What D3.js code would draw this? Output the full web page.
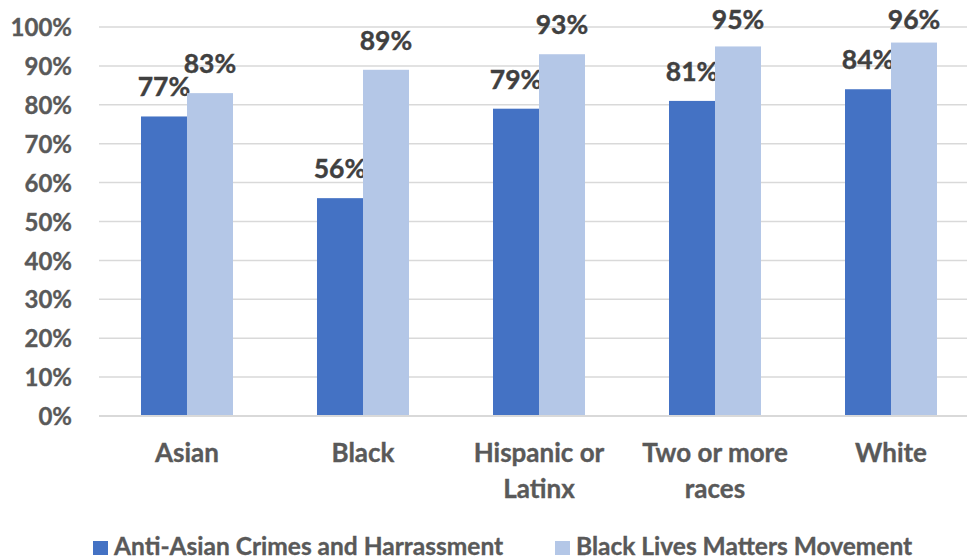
<!DOCTYPE html>
<html><head><meta charset="utf-8">
<script src="https://cdn.jsdelivr.net/npm/d3@7"></script>
<style>
html,body{margin:0;padding:0;background:#fff;}
svg{display:block;}
text{font-family:Lato,"Open Sans",sans-serif;font-weight:700;}
</style></head>
<body>
<script>
const categories = [["Asian"], ["Black"], ["Hispanic or", "Latinx"], ["Two or more", "races"], ["White"]];
const seriesNames = ["Anti-Asian Crimes and Harrassment", "Black Lives Matters Movement"];
const antiAsian = [77, 56, 79, 81, 84];
const blm = [83, 89, 93, 95, 96];
const yTicks = [0, 10, 20, 30, 40, 50, 60, 70, 80, 90, 100];
const colors = ["#4472C4", "#B4C7E7"];

const W = 967, H = 559;
const svg = d3.select("body").append("svg").attr("width", W).attr("height", H);

const x = d3.scaleBand().domain(d3.range(categories.length)).range([99, 979]).paddingInner(0.4773).paddingOuter(0.2386);
const x1 = d3.scaleBand().domain([0, 1]).range([0, x.bandwidth()]);
const y = d3.scaleLinear().domain([0, 100]).range([416, 27]);

// gridlines
svg.append("g").selectAll("line").data(yTicks).join("line")
  .attr("x1", 99).attr("x2", W).attr("y1", d => y(d)).attr("y2", d => y(d))
  .attr("stroke", "#d9d9d9").attr("stroke-width", 1.5);

// y axis
const yAxis = d3.axisLeft(y).tickValues(yTicks).tickFormat(d => d + "%").tickSize(0).tickPadding(0);
const yg = svg.append("g").attr("transform", "translate(72,0)").call(yAxis);
yg.select(".domain").remove();
yg.selectAll("text").attr("fill", "#595959").attr("stroke", "#595959").attr("stroke-width", 0.35)
  .style("font-size", "24px").attr("dy", "0.36em");

const series = [antiAsian, blm];
series.forEach((vals, si) => {
  svg.append("g").selectAll("rect").data(vals).join("rect")
    .attr("x", (d, i) => x(i) + x1(si))
    .attr("width", x1.bandwidth())
    .attr("y", d => y(d))
    .attr("height", d => y(0) - y(d))
    .attr("fill", colors[si]);
  svg.append("g").selectAll("text").data(vals).join("text")
    .attr("x", (d, i) => x(i) + x1(si) + x1.bandwidth() / 2)
    .attr("y", d => Math.max(y(d) - 20, 29))
    .attr("text-anchor", "middle")
    .attr("fill", "#404040").attr("stroke", "#404040").attr("stroke-width", 0.4)
    .style("font-size", "26.5px")
    .text(d => d + "%");
});

// baseline
svg.append("line").attr("x1", 99).attr("x2", W).attr("y1", y(0)).attr("y2", y(0))
  .attr("stroke", "#d9d9d9").attr("stroke-width", 2);

// category labels
const cg = svg.append("g").selectAll("text").data(categories).join("text")
  .attr("text-anchor", "middle").attr("fill", "#595959").attr("stroke", "#595959").attr("stroke-width", 0.35)
  .style("font-size", "26px")
  .attr("transform", (d, i) => `translate(${x(i) + x.bandwidth() / 2},462)`);
cg.selectAll("tspan").data(d => d).join("tspan")
  .attr("x", 0).attr("y", (d, j) => j * 36).text(d => d);

// legend
const legX = [93, 555];
const lg = svg.append("g").selectAll("g").data(seriesNames).join("g")
  .attr("transform", (d, i) => `translate(${legX[i]},541)`);
lg.append("rect").attr("width", 15).attr("height", 14).attr("fill", (d, i) => colors[i]);
lg.append("text").attr("x", 21).attr("y", 14).attr("fill", "#595959").attr("stroke", "#595959").attr("stroke-width", 0.35)
  .style("font-size", "24.5px").text(d => d);
</script>
</body></html>
